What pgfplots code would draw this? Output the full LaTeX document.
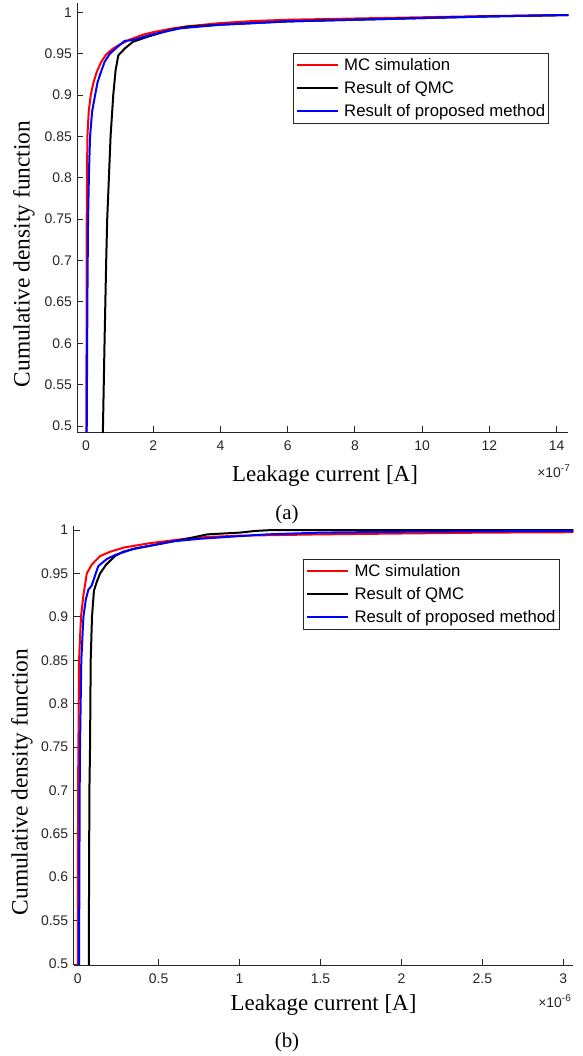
\documentclass[border=0pt]{standalone}
\usepackage{fontspec}
\setmainfont{Liberation Serif}
\newfontfamily\arial{Liberation Sans}
\usepackage{pgfplots}
\pgfplotsset{compat=1.18}
\definecolor{axgray}{gray}{0.15}
\pgfplotsset{
 mystyle/.style={
  scale only axis,
  axis x line*=bottom, axis y line*=left,
  tick align=inside,
  major tick length=6bp,
  axis line style={axgray, line width=0.8bp},
  every tick/.style={axgray, line width=0.8bp},
  tick label style={font=\arial\fontsize{14}{14}\selectfont, text=axgray},
  xticklabel style={yshift=-5bp},
  yticklabel style={xshift=-2bp},
  /pgf/number format/assume math mode=true,
  legend cell align=left,
  legend style={draw=axgray, line width=0.6bp, fill=white,
    font=\arial\fontsize{16.8}{18}\selectfont,
    inner xsep=2.5bp, inner ysep=4bp, column sep=4.4bp, row sep=7.5bp,
    nodes={inner sep=1bp}, anchor=north east},
  legend image code/.code={\draw[##1, line width=2bp] (0bp,0bp) -- (41bp,0bp);},
  every axis plot/.append style={line width=2bp, line join=round},
  ytick={0.5,0.55,0.6,0.65,0.7,0.75,0.8,0.85,0.9,0.95,1},
 }
}
\begin{document}
\begin{tikzpicture}
\path (0bp,0bp) rectangle (583bp,1056bp);
% ---------------- (a) ----------------
\begin{axis}[mystyle, at={(77.3bp,623.7bp)}, anchor=south west,
  width=491bp, height=429bp,
  xmin=-0.26, xmax=14.35, ymin=0.4924, ymax=1.0109,
  xtick={0,2,4,6,8,10,12,14},
  legend style={at={(0.9607,0.8841)}}]
\addplot[red] coordinates {
(0.01,0.49) (0.02,0.75) (0.04,0.85) (0.08,0.88) (0.14,0.90) (0.22,0.915)
(0.32,0.928) (0.45,0.94) (0.6,0.949) (0.8,0.956) (1.0,0.961) (1.3,0.967)
(1.7,0.973) (2.0,0.976) (2.5,0.980) (3.0,0.983) (4.0,0.987) (5.0,0.9895)
(6.0,0.991) (8.0,0.9925) (10.0,0.994) (12.0,0.9955) (14.35,0.9967)};
\addlegendentry{MC simulation}
\addplot[black] coordinates {
(0.50,0.49) (0.55,0.60) (0.60,0.70) (0.63,0.75) (0.68,0.80) (0.73,0.85)
(0.81,0.90) (0.88,0.93) (0.96,0.948) (1.16,0.9565) (1.4,0.9645) (1.9,0.9713)
(2.5,0.9786) (3.0,0.9826) (4.0,0.985) (5.0,0.987) (6.0,0.989) (8.0,0.991)
(10.0,0.993) (12.0,0.995) (14.35,0.9967)};
\addlegendentry{Result of QMC}
\addplot[blue] coordinates {
(0.02,0.49) (0.04,0.65) (0.06,0.75) (0.09,0.81) (0.12,0.85) (0.18,0.88)
(0.27,0.90) (0.34,0.915) (0.42,0.925) (0.55,0.94) (0.71,0.95) (0.96,0.959)
(1.15,0.9655) (1.4,0.9665) (1.9,0.9726) (2.8,0.9806) (4.0,0.985) (5.0,0.987)
(6.0,0.989) (8.0,0.991) (10.0,0.993) (12.0,0.995) (14.35,0.9967)};
\addlegendentry{Result of proposed method}
\end{axis}
\node[font=\fontsize{23}{23}\selectfont] at (325bp,580bp) {Leakage current [A]};
\node[font=\fontsize{21}{21}\selectfont] at (287bp,542bp) {(a)};
\node[anchor=base east, font=\arial\fontsize{14}{14}\selectfont, text=axgray, inner sep=0pt]
  at (570bp,578bp) {×10\raisebox{6bp}{\fontsize{10}{10}\selectfont -7}};
\node[rotate=90, font=\fontsize{23.5}{23.5}\selectfont] at (24bp,802bp) {Cumulative density function};
% ---------------- (b) ----------------
\begin{axis}[mystyle, at={(73.7bp,91bp)}, anchor=south west,
  width=499.6bp, height=439.3bp,
  xmin=-0.025, xmax=3.062, ymin=0.4988, ymax=1.005,
  xtick={0,0.5,1,1.5,2,2.5,3},
  legend style={at={(0.972,0.924)}}]
\addplot[red] coordinates {
(0.0,0.4988) (0.002,0.70) (0.004,0.75) (0.008,0.85) (0.02,0.90) (0.035,0.925)
(0.056,0.95) (0.086,0.96) (0.138,0.97) (0.2,0.975) (0.29,0.98) (0.45,0.985)
(0.67,0.99) (0.8,0.992) (1.0,0.9935) (1.5,0.995) (2.0,0.996) (2.5,0.997) (3.062,0.9975)};
\addlegendentry{MC simulation}
\addplot[black] coordinates {
(0.068,0.4988) (0.072,0.70) (0.076,0.75) (0.08,0.85) (0.088,0.90) (0.10,0.93)
(0.117,0.94) (0.138,0.95) (0.175,0.96) (0.23,0.97) (0.28,0.975) (0.36,0.979)
(0.45,0.982) (0.59,0.987) (0.7,0.991) (0.8,0.995) (0.9,0.996) (1.0,0.997)
(1.1,0.999) (1.2,1.0) (3.062,1.0)};
\addlegendentry{Result of QMC}
\addplot[blue] coordinates {
(0.008,0.4988) (0.012,0.70) (0.014,0.75) (0.022,0.85) (0.035,0.90) (0.05,0.92)
(0.065,0.931) (0.086,0.936) (0.127,0.9585) (0.18,0.9666) (0.23,0.9712) (0.34,0.978)
(0.45,0.982) (0.59,0.987) (0.76,0.99) (1.0,0.993) (1.17,0.995) (1.5,0.997)
(2.0,0.998) (3.062,0.999)};
\addlegendentry{Result of proposed method}
\end{axis}
\node[font=\fontsize{23}{23}\selectfont] at (323.5bp,51bp) {Leakage current [A]};
\node[font=\fontsize{21}{21}\selectfont] at (287bp,13.4bp) {(b)};
\node[anchor=base east, font=\arial\fontsize{14}{14}\selectfont, text=axgray, inner sep=0pt]
  at (571bp,48bp) {×10\raisebox{6bp}{\fontsize{10}{10}\selectfont -6}};
\node[rotate=90, font=\fontsize{23.5}{23.5}\selectfont] at (22bp,274bp) {Cumulative density function};
\end{tikzpicture}
\end{document}
